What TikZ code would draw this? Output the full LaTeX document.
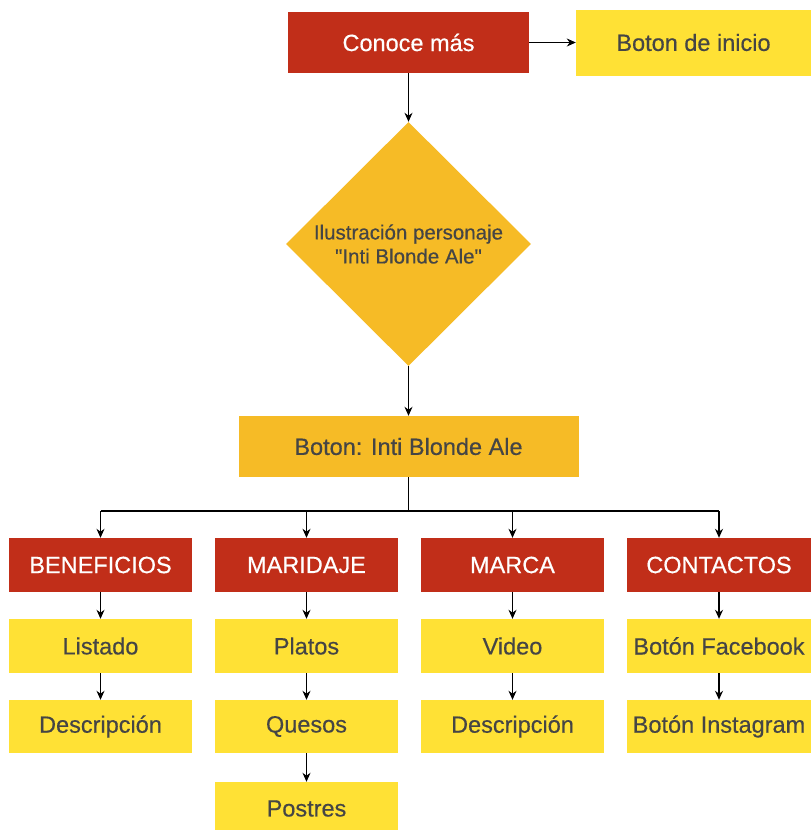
\documentclass[tikz,border=0pt]{standalone}
\usepackage{fontspec}
\setmainfont{Liberation Sans}
\newfontfamily\medfont{Liberation Sans}[FakeBold=0.45]
\usetikzlibrary{shapes.geometric,arrows.meta}
\definecolor{cred}{HTML}{C12E19}
\definecolor{cyellow}{HTML}{FFE135}
\definecolor{corange}{HTML}{F6BB26}
\definecolor{ctext}{HTML}{454545}
\tikzset{
  mainfont/.style={font=\medfont\fontsize{23.5}{28}\selectfont},
  redbox/.style={rectangle,fill=cred,text=white,inner sep=0pt,mainfont},
  yelbox/.style={rectangle,fill=cyellow,text=ctext,inner sep=0pt,mainfont},
  orabox/.style={rectangle,fill=corange,text=ctext,inner sep=0pt,mainfont},
  conn/.style={line width=1.3pt,-{Stealth[length=9pt,width=8pt]}},
  plain/.style={line width=1.3pt},
}
\begin{document}
\begin{tikzpicture}[x=1pt,y=-1pt]
\useasboundingbox (0,0) rectangle (811,830);
% top
\node[redbox,minimum width=241,minimum height=61] (conoce) at (408.5,42.5) {Conoce más};
\node[yelbox,minimum width=235,minimum height=66] (inicio) at (693.5,42.5) {Boton de inicio};
\node[diamond,fill=corange,text=ctext,inner sep=0pt,minimum width=245,minimum height=244,align=center,
      font=\medfont\fontsize{20.5}{24}\selectfont] (ilus) at (408.5,244) {Ilustración personaje\\\textquotedbl Inti Blonde Ale\textquotedbl};
\node[orabox,minimum width=340,minimum height=61] (inti) at (408.5,446.5) {Boton: Inti Blonde Ale};
% categories
\node[redbox,minimum width=183,minimum height=54] (ben) at (100.5,565) {BENEFICIOS};
\node[redbox,minimum width=183,minimum height=54] (mar) at (306.5,565) {MARIDAJE};
\node[redbox,minimum width=183,minimum height=54] (mca) at (512.5,565) {MARCA};
\node[redbox,minimum width=184,minimum height=54] (con) at (719,565) {CONTACTOS};
% row 1
\node[yelbox,minimum width=183,minimum height=54] (lis) at (100.5,646) {Listado};
\node[yelbox,minimum width=183,minimum height=54] (pla) at (306.5,646) {Platos};
\node[yelbox,minimum width=183,minimum height=54] (vid) at (512.5,646) {Video};
\node[yelbox,minimum width=184,minimum height=54] (fb) at (719,646) {Botón Facebook};
% row 2
\node[yelbox,minimum width=183,minimum height=53] (des1) at (100.5,726.5) {Descripción};
\node[yelbox,minimum width=183,minimum height=53] (que) at (306.5,726.5) {Quesos};
\node[yelbox,minimum width=183,minimum height=53] (des2) at (512.5,726.5) {Descripción};
\node[yelbox,minimum width=184,minimum height=53] (ig) at (719,726.5) {Botón Instagram};
% row 3
\node[yelbox,minimum width=183,minimum height=53] (pos) at (306.5,808.5) {Postres};
% connectors
\draw[conn] (conoce.east) -- (inicio.west);
\draw[conn] (conoce.south) -- (ilus.north);
\draw[conn] (ilus.south) -- (inti.north);
\coordinate (hub) at (408.5,511);
\draw[plain] (inti.south) -- (hub);
\draw[plain] (ben.north |- hub) -- (con.north |- hub);
\draw[conn] (ben.north |- hub) -- (ben.north);
\draw[conn] (mar.north |- hub) -- (mar.north);
\draw[conn] (mca.north |- hub) -- (mca.north);
\draw[conn] (con.north |- hub) -- (con.north);
\draw[conn] (ben) -- (lis);
\draw[conn] (lis) -- (des1);
\draw[conn] (mar) -- (pla);
\draw[conn] (pla) -- (que);
\draw[conn] (que) -- (pos);
\draw[conn] (mca) -- (vid);
\draw[conn] (vid) -- (des2);
\draw[conn] (con) -- (fb);
\draw[conn] (fb) -- (ig);
\end{tikzpicture}
\end{document}
